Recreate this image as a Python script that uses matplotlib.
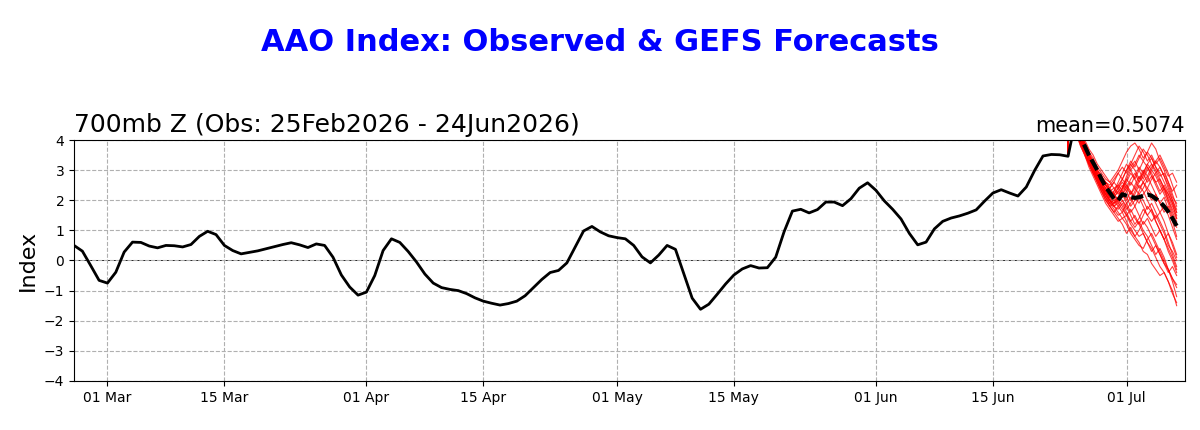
# AAO index: observed daily values + GEFS ensemble forecast

import matplotlib
matplotlib.use('Agg')
import matplotlib.pyplot as plt
import matplotlib.dates as mdates
import pandas as pd

# Observed AAO index, daily from 25 Feb 2026 to 24 Jun 2026
OBS_START = '2026-02-25'
OBS = [
    0.50, 0.31, -0.17, -0.66, -0.75, -0.39, 0.28, 0.61, 0.60, 0.48,
    0.42, 0.50, 0.49, 0.45, 0.53, 0.80, 0.97, 0.86, 0.50, 0.33,
    0.22, 0.27, 0.32, 0.39, 0.46, 0.53, 0.59, 0.52, 0.43, 0.55,
    0.50, 0.11, -0.48, -0.88, -1.15, -1.05, -0.50, 0.33, 0.72, 0.60,
    0.30, -0.05, -0.45, -0.75, -0.90, -0.96, -1.00, -1.10, -1.24, -1.35,
    -1.42, -1.48, -1.43, -1.35, -1.17, -0.90, -0.63, -0.40, -0.33, -0.08,
    0.45, 0.98, 1.13, 0.95, 0.82, 0.76, 0.72, 0.50, 0.12, -0.08,
    0.18, 0.50, 0.37, -0.44, -1.25, -1.62, -1.45, -1.12, -0.78, -0.48,
    -0.28, -0.17, -0.25, -0.24, 0.11, 0.95, 1.64, 1.70, 1.58, 1.69,
    1.94, 1.94, 1.82, 2.05, 2.40, 2.58, 2.33, 1.98, 1.70, 1.38,
    0.90, 0.52, 0.61, 1.05, 1.30, 1.41, 1.48, 1.57, 1.68, 1.97,
    2.24, 2.35, 2.24, 2.14, 2.44, 2.99, 3.47, 3.52, 3.51, 3.46,
    4.80,
]

# GEFS forecast, 12-hourly from 24 Jun 2026
FCST_START = '2026-06-24'
FCST_MEAN = [
    4.80, 4.70, 4.40, 4.05, 3.80, 3.50, 3.25, 3.00, 2.70, 2.45,
    2.25, 2.05, 2.00, 2.20, 2.15, 2.10, 2.08, 2.10, 2.15, 2.19,
    2.15, 2.05, 1.95, 1.80, 1.62, 1.40, 1.15,
]
MEMBERS = [
    [4.8, 4.7, 4.4, 4.0, 3.7, 3.4, 3.2, 2.9, 2.6, 2.4, 2.2, 2.0, 2.1, 2.4, 2.7, 3.0, 3.2, 3.5, 3.3, 3.6, 3.4, 3.1, 2.8, 2.9, 2.6, 2.3, 2.5],
    [4.8, 4.6, 4.3, 3.9, 3.6, 3.3, 3.0, 2.7, 2.4, 2.1, 1.9, 1.8, 1.6, 1.4, 1.5, 1.2, 1.0, 0.8, 0.9, 0.6, 0.4, 0.1, -0.2, -0.4, -0.7, -1.0, -1.5],
    [4.8, 4.8, 4.5, 4.2, 3.9, 3.6, 3.4, 3.1, 2.9, 2.7, 2.6, 2.8, 3.0, 3.3, 3.6, 3.8, 3.9, 3.7, 3.4, 3.6, 3.9, 3.7, 3.3, 3.0, 2.6, 2.2, 1.8],
    [4.8, 4.6, 4.2, 3.8, 3.5, 3.2, 2.9, 2.6, 2.3, 2.0, 1.8, 1.9, 2.1, 2.0, 1.7, 1.9, 2.2, 2.5, 2.3, 2.0, 1.7, 1.4, 1.6, 1.3, 0.9, 0.6, 0.2],
    [4.8, 4.7, 4.4, 4.1, 3.8, 3.5, 3.3, 3.0, 2.8, 2.5, 2.3, 2.2, 2.4, 2.6, 2.4, 2.7, 2.9, 2.6, 2.8, 3.1, 2.9, 2.6, 2.7, 2.4, 2.0, 1.7, 1.4],
    [4.8, 4.6, 4.3, 3.9, 3.5, 3.1, 2.8, 2.5, 2.2, 1.9, 1.7, 1.5, 1.3, 1.4, 1.2, 0.9, 0.7, 0.5, 0.4, 0.7, 0.9, 0.6, 0.3, 0.0, -0.3, -0.6, -0.9],
    [4.8, 4.7, 4.5, 4.2, 3.8, 3.5, 3.1, 2.8, 2.5, 2.3, 2.1, 2.3, 2.5, 2.3, 2.6, 2.9, 2.7, 2.4, 2.6, 2.3, 2.0, 2.2, 1.9, 1.6, 1.8, 1.4, 1.1],
    [4.8, 4.7, 4.3, 4.0, 3.6, 3.3, 3.0, 2.7, 2.5, 2.2, 2.0, 1.8, 1.9, 1.7, 1.5, 1.3, 1.5, 1.2, 0.9, 0.6, 0.3, 0.5, 0.2, -0.1, -0.3, -0.6, -0.8],
    [4.8, 4.8, 4.6, 4.3, 4.0, 3.7, 3.5, 3.2, 3.0, 2.8, 2.6, 2.4, 2.5, 2.7, 3.0, 3.2, 3.5, 3.8, 3.6, 3.3, 3.5, 3.2, 3.4, 3.1, 2.8, 2.9, 2.6],
    [4.8, 4.6, 4.2, 3.9, 3.6, 3.3, 3.1, 2.8, 2.5, 2.3, 2.1, 1.9, 2.0, 2.2, 1.9, 1.6, 1.8, 2.1, 1.8, 1.5, 1.7, 1.3, 1.0, 0.7, 0.9, 0.5, 0.1],
    [4.8, 4.7, 4.4, 4.0, 3.7, 3.4, 3.1, 2.8, 2.6, 2.4, 2.2, 2.1, 1.9, 2.2, 2.5, 2.3, 2.0, 2.3, 2.6, 2.8, 2.5, 2.2, 1.9, 2.1, 1.7, 1.3, 0.8],
    [4.8, 4.6, 4.3, 4.0, 3.7, 3.3, 3.0, 2.7, 2.4, 2.2, 1.9, 1.7, 1.5, 1.6, 1.3, 1.0, 0.8, 0.6, 0.3, 0.2, -0.1, -0.3, -0.5, -0.4, -0.7, -1.1, -1.4],
    [4.8, 4.7, 4.5, 4.1, 3.8, 3.5, 3.2, 2.9, 2.7, 2.5, 2.4, 2.6, 2.9, 3.1, 2.9, 3.2, 3.0, 2.7, 2.9, 3.2, 3.4, 3.1, 2.9, 2.6, 2.3, 2.0, 1.6],
    [4.8, 4.6, 4.3, 3.9, 3.6, 3.2, 2.9, 2.6, 2.3, 2.1, 1.9, 2.0, 1.8, 1.6, 1.9, 2.1, 1.8, 1.5, 1.2, 1.4, 1.1, 0.8, 1.0, 0.7, 0.4, 0.1, -0.3],
    [4.8, 4.7, 4.4, 4.1, 3.7, 3.4, 3.2, 2.9, 2.6, 2.4, 2.2, 2.1, 2.3, 2.1, 2.3, 2.6, 2.4, 2.2, 2.4, 2.7, 3.0, 2.8, 2.5, 2.2, 1.9, 1.5, 1.2],
    [4.8, 4.7, 4.4, 4.0, 3.7, 3.4, 3.1, 2.8, 2.5, 2.2, 2.0, 1.8, 1.7, 1.9, 1.6, 1.3, 1.1, 1.3, 1.0, 0.8, 0.5, 0.2, 0.4, 0.1, -0.3, -0.7, -1.2],
    [4.8, 4.8, 4.5, 4.2, 3.9, 3.6, 3.3, 3.0, 2.7, 2.5, 2.3, 2.4, 2.2, 2.4, 2.7, 2.5, 2.8, 3.1, 2.9, 2.6, 2.8, 2.5, 2.2, 2.4, 2.1, 1.8, 1.5],
    [4.8, 4.6, 4.2, 3.8, 3.5, 3.2, 2.9, 2.7, 2.4, 2.2, 2.0, 1.9, 2.1, 2.3, 2.1, 1.8, 2.0, 2.2, 2.0, 1.7, 1.9, 1.6, 1.3, 1.0, 0.6, 0.2, -0.2],
    [4.8, 4.7, 4.4, 4.0, 3.7, 3.4, 3.1, 2.9, 2.7, 2.6, 2.5, 2.7, 2.9, 2.7, 2.5, 2.2, 2.4, 2.7, 3.0, 2.8, 3.1, 3.3, 3.5, 3.2, 2.9, 2.5, 2.1],
    [4.8, 4.6, 4.3, 4.0, 3.6, 3.3, 3.0, 2.7, 2.4, 2.1, 1.8, 1.6, 1.4, 1.2, 0.9, 1.1, 0.8, 1.0, 1.3, 1.1, 0.8, 0.5, 0.2, -0.1, -0.4, -0.2, -0.5],
    [4.8, 4.7, 4.5, 4.1, 3.8, 3.5, 3.2, 3.0, 2.8, 2.6, 2.4, 2.2, 2.4, 2.2, 2.0, 2.3, 2.1, 1.9, 2.2, 2.4, 2.2, 1.9, 1.6, 1.8, 1.5, 1.1, 0.7],
    [4.8, 4.6, 4.3, 3.9, 3.6, 3.3, 3.0, 2.8, 2.5, 2.3, 2.1, 2.2, 2.0, 2.4, 2.8, 3.1, 3.3, 3.0, 2.7, 3.0, 3.2, 3.0, 2.7, 2.4, 2.2, 1.9, 1.6],
    [4.8, 4.7, 4.4, 4.0, 3.7, 3.4, 3.1, 2.8, 2.6, 2.3, 2.1, 2.3, 2.6, 2.9, 3.2, 3.0, 2.7, 3.0, 3.3, 3.1, 2.8, 2.6, 2.3, 2.5, 2.2, 1.9, 1.4],
    [4.8, 4.6, 4.3, 4.0, 3.6, 3.3, 3.0, 2.8, 2.5, 2.3, 2.0, 1.8, 2.0, 1.8, 1.5, 1.7, 1.4, 1.2, 1.5, 1.8, 1.6, 1.3, 1.0, 0.7, 0.3, 0.0, -0.4],
    [4.8, 4.7, 4.5, 4.2, 3.9, 3.5, 3.3, 3.0, 2.8, 2.6, 2.4, 2.6, 2.4, 2.7, 3.0, 3.3, 3.1, 3.4, 3.7, 3.5, 3.2, 2.9, 3.1, 2.8, 2.5, 2.1, 1.9],
    [4.8, 4.6, 4.2, 3.9, 3.6, 3.2, 2.9, 2.6, 2.3, 2.0, 1.8, 1.6, 1.8, 2.0, 1.8, 1.5, 1.2, 1.4, 1.7, 1.5, 1.3, 1.5, 1.2, 0.9, 0.5, 0.3, 0.0],
    [4.8, 4.7, 4.4, 4.1, 3.8, 3.5, 3.2, 2.9, 2.7, 2.5, 2.3, 2.2, 2.0, 2.2, 2.4, 2.2, 2.5, 2.8, 2.6, 2.4, 2.7, 2.9, 2.6, 2.3, 2.0, 1.6, 1.3],
    [4.8, 4.7, 4.3, 4.0, 3.7, 3.4, 3.0, 2.7, 2.4, 2.2, 2.0, 2.1, 2.3, 2.5, 2.3, 2.0, 2.3, 2.6, 2.9, 3.2, 3.0, 3.3, 3.1, 2.8, 2.4, 2.0, 1.7],
]

TITLE = 'AAO Index: Observed & GEFS Forecasts'
SUBTITLE = '700mb Z (Obs: 25Feb2026 - 24Jun2026)'
MEAN_TEXT = 'mean=0.5074'

obs_dates = pd.date_range(OBS_START, periods=len(OBS), freq='D')
fcst_dates = pd.date_range(FCST_START, periods=len(FCST_MEAN), freq='12h')

fig = plt.figure(figsize=(12, 4.3), dpi=100)
ax = fig.add_axes([0.0617, 0.114, 0.9258, 0.5604])

# Ensemble members (start from the day before the forecast, like the analysis)
for mem in MEMBERS:
    xs = [obs_dates[-2]] + list(fcst_dates)
    ys = [OBS[-2]] + mem
    ax.plot(xs, ys, color='red', linewidth=0.8, alpha=0.75, zorder=2)

ax.plot(obs_dates, OBS, color='black', linewidth=2, zorder=3)
ax.plot(fcst_dates, FCST_MEAN, color='black', linewidth=3, linestyle='--',
        dashes=(2.9, 1.1), zorder=4)

ax.axhline(0, color='black', linewidth=0.6, zorder=1)

ax.set_xlim(pd.Timestamp('2026-02-25'), pd.Timestamp('2026-07-08'))
ax.set_ylim(-4, 4)
ax.set_yticks(range(-4, 5))
ax.xaxis.set_major_locator(mdates.DayLocator(bymonthday=[1, 15]))
ax.xaxis.set_major_formatter(mdates.DateFormatter('%d %b'))
ax.tick_params(labelsize=10)
ax.grid(True, linestyle='--', color='#b0b0b0', linewidth=0.8)

ax.set_ylabel('Index', fontsize=16)
ax.set_title(SUBTITLE, loc='left', fontsize=18)
ax.set_title(MEAN_TEXT, loc='right', fontsize=15)
fig.suptitle(TITLE, color='blue', fontsize=22, fontweight='bold', y=0.935)

fig.savefig('out.png', dpi=100)
